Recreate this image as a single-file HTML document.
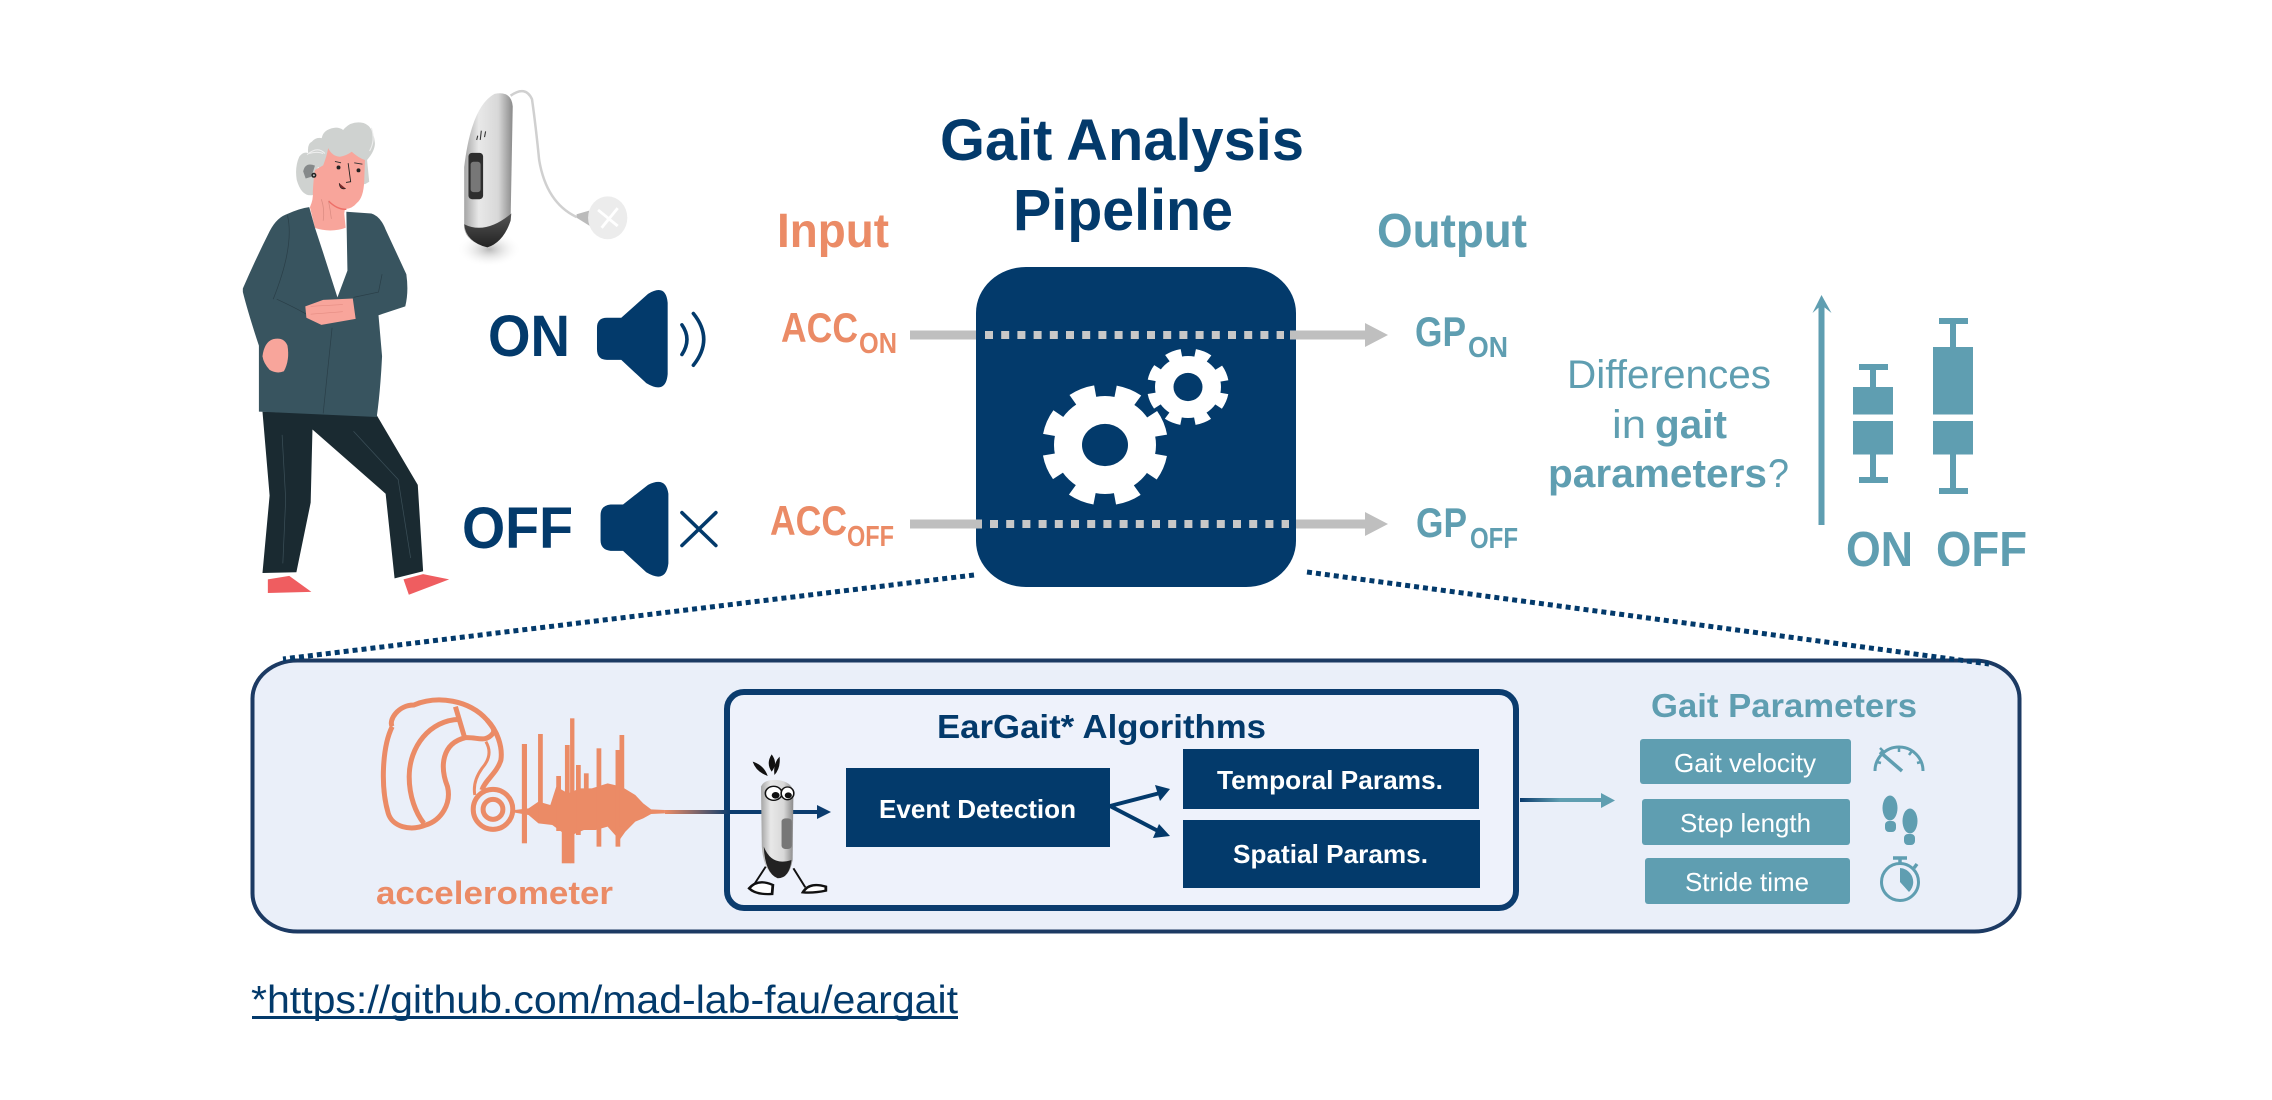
<!DOCTYPE html>
<html><head><meta charset="utf-8"><title>Gait Analysis Pipeline</title>
<style>html,body{margin:0;padding:0;background:#fff}svg{display:block}text{font-family:"Liberation Sans",sans-serif}</style>
</head><body>
<svg xmlns="http://www.w3.org/2000/svg" width="2272" height="1100" viewBox="0 0 2272 1100">
<defs>
<linearGradient id="silver" x1="0" x2="1" y1="0" y2="0"><stop offset="0" stop-color="#a5a5a5"/><stop offset=".3" stop-color="#e8e8e8"/><stop offset=".7" stop-color="#d8d8d8"/><stop offset="1" stop-color="#8a8a8a"/></linearGradient>
<linearGradient id="dark" x1="0" x2="0" y1="0" y2="1"><stop offset="0" stop-color="#555"/><stop offset="1" stop-color="#222"/></linearGradient>
<linearGradient id="g1" gradientUnits="userSpaceOnUse" x1="665" x2="730" y1="0" y2="0"><stop offset="0" stop-color="#EB8B66"/><stop offset="1" stop-color="#0B3C6E"/></linearGradient>
<linearGradient id="g2" gradientUnits="userSpaceOnUse" x1="1520" x2="1560" y1="0" y2="0"><stop offset="0" stop-color="#0B3C6E"/><stop offset="1" stop-color="#5F9EB1"/></linearGradient>
<radialGradient id="shadow"><stop offset="0" stop-color="#999" stop-opacity=".7"/><stop offset="1" stop-color="#fff" stop-opacity="0"/></radialGradient>
</defs>

<!-- person + hearing aid + speakers, zoom coordinates -->
<g transform="translate(200,60) scale(.357)">
 <!-- hair -->
 <path d="M271,336 Q265,300 278,271 Q290,255 303,261 Q300,235 313,229 Q325,215 341,219 Q345,195 375,190 Q390,188 401,196 Q420,172 450,175 Q485,178 490,233 Q490,255 468,280 L474,341 L462,348 L330,300 L317,378 Q285,385 271,336Z" fill="#CFD2D0"/>
 <!-- neck and face -->
 <path d="M359,247 Q370,270 392,271 Q410,268 425,257 Q445,275 462,280 L460,340 Q458,385 440,400 Q425,418 406,417 L404,430 L408,470 Q360,490 322,471 L308,412 Q318,390 316,370 Q318,330 322,308 L345,295 Q355,270 359,247Z" fill="#F8A59B"/>
 <path d="M360,395 Q385,420 410,418" fill="none" stroke="#EE6F68" stroke-width="4"/>
 <path d="M305,262 Q330,255 345,262 M300,265 Q330,240 350,262 M480,190 Q492,225 475,255" fill="none" stroke="#eee" stroke-width="3"/>
 <path d="M289,312 Q295,285 322,296 L312,327 L296,332Z" fill="#85898a"/>
 <circle cx="319" cy="323" r="7" fill="#222"/><circle cx="319" cy="323" r="3" fill="#bbb"/>
 <circle cx="388" cy="301" r="5.500" fill="#222"/><circle cx="444" cy="309" r="5.500" fill="#222"/>
 <path d="M378,284 L395,288 M432,288 L455,292" stroke="#333" stroke-width="2.500"/>
 <path d="M415,289 L422,341 L409,343" fill="none" stroke="#222" stroke-width="2.500"/>
 <path d="M390,345 Q392,365 408,360" fill="#7c2b2b" stroke="#222" stroke-width="2"/>
 <path d="M340,390 Q350,420 345,450 M360,395 Q365,420 368,445" fill="none" stroke="#d98a80" stroke-width="2"/>
 <!-- shirt -->
 <path d="M320,470 Q365,485 410,470 L413,590 L385,665 L345,540Z" fill="#fff"/>
 <!-- pants -->
 <path d="M175,985 L495,995 L610,1190 L625,1432 L545,1452 L520,1215 L315,1035 L310,1240 L270,1435 L175,1437 L195,1220Z" fill="#1A2A31"/>
 <path d="M230,1050 L240,1230 L232,1410 M430,1040 L555,1175 L590,1395" fill="none" stroke="#3b4f58" stroke-width="2"/>
 <!-- jacket -->
 <path d="M120,640 Q155,560 190,490 Q210,445 240,433 Q280,415 306,412 L322,470 L345,540 L385,665 L413,590 L410,425 L480,430 Q505,437 520,475 L578,600 Q585,650 575,690 L500,715 L510,830 Q505,930 495,1000 L165,985 L165,800 Q135,710 120,650Z" fill="#38545F"/>
 <path d="M245,435 Q265,520 205,670 M215,670 Q280,700 320,725 M370,750 L345,990 M510,600 L500,650 L430,665" fill="none" stroke="#2a3f48" stroke-width="2"/>
 <!-- hands -->
 <path d="M295,690 L345,672 L428,668 L436,725 L340,742 L298,722Z" fill="#F8A59B"/>
 <path d="M175,830 Q180,790 205,782 Q235,775 245,800 Q252,840 235,872 Q215,880 195,868 Q178,850 175,830Z" fill="#F8A59B"/>
 <path d="M310,690 L400,685 M310,712 L400,705" stroke="#e58d83" stroke-width="2"/>
 <!-- shoes -->
 <path d="M190,1455 L250,1445 L312,1490 L190,1493Z" fill="#EF5D60"/>
 <path d="M570,1455 L625,1440 L698,1455 L585,1498Z" fill="#EF5D60"/>
 <!-- hearing aid photo -->
 <ellipse cx="810" cy="530" rx="90" ry="50" fill="url(#shadow)"/>
 <path d="M870,100 Q912,70 930,110 Q940,180 950,280 Q970,400 1055,440" fill="none" stroke="#d0d0d0" stroke-width="7"/>
 <path d="M1055,432 L1090,422 L1092,465 L1055,442Z" fill="#bbb"/>
 <ellipse cx="1142" cy="442" rx="55" ry="60" fill="#ececec"/>
 <path d="M1115,420 L1170,465 M1170,415 L1125,470" stroke="#fff" stroke-width="8"/>
 <path d="M740,470 L740,300 Q760,130 825,95 Q872,85 876,130 L870,450 Q850,510 805,525 Q745,510 740,470Z" fill="url(#silver)"/>
 <path d="M740,460 Q800,490 872,430 L870,450 Q850,510 805,525 Q745,510 740,460Z" fill="url(#dark)"/>
 <rect x="752" y="260" width="41" height="130" rx="10" fill="#2e2e2e"/>
 <rect x="758" y="285" width="28" height="85" rx="8" fill="#777"/>
 <path d="M778,212 L775,224 M788,198 L785,224 M800,200 L797,216" stroke="#333" stroke-width="3"/>
 <!-- speakers -->
 <path d="M1140,722 L1180,722 L1255,655 Q1305,625 1310,680 L1310,880 Q1305,938 1250,905 L1180,840 L1140,840 Q1112,840 1112,810 L1112,750 Q1112,722 1140,722Z" fill="#033A6B"/>
 <path d="M1350,742 Q1378,782 1350,825 M1382,710 Q1440,782 1382,855" fill="none" stroke="#033A6B" stroke-width="10" stroke-linecap="round"/>
 <path d="M1150,1245 L1185,1245 L1255,1190 Q1305,1165 1312,1215 L1312,1410 Q1305,1468 1250,1435 L1185,1375 L1150,1375 Q1122,1372 1122,1345 L1122,1275 Q1122,1248 1150,1245Z" fill="#033A6B"/>
 <path d="M1350,1268 L1445,1360 M1445,1268 L1350,1360" fill="none" stroke="#033A6B" stroke-width="10" stroke-linecap="round"/>
</g>
<text x="488" y="356" font-size="58" font-weight="700" fill="#033A6B" textLength="82" lengthAdjust="spacingAndGlyphs">ON</text>
<text x="462" y="548" font-size="58" font-weight="700" fill="#033A6B" textLength="111" lengthAdjust="spacingAndGlyphs">OFF</text>

<!-- titles -->
<g font-weight="700" fill="#033A6B" font-size="58">
<text x="940" y="160" textLength="364" lengthAdjust="spacingAndGlyphs">Gait Analysis</text>
<text x="1013" y="230" textLength="220" lengthAdjust="spacingAndGlyphs">Pipeline</text>
</g>
<text x="777" y="247" font-size="48" font-weight="700" fill="#EB8B66" textLength="112" lengthAdjust="spacingAndGlyphs">Input</text>
<text x="1377" y="247" font-size="48" font-weight="700" fill="#5F9EB1" textLength="150" lengthAdjust="spacingAndGlyphs">Output</text>

<!-- pipeline box -->
<rect x="976" y="267" width="320" height="320" rx="50" ry="46" fill="#033A6B"/>

<!-- grey arrows -->
<rect x="910" y="330.500" width="66" height="9" fill="#BFBFBF"/>
<rect x="910" y="519.500" width="72" height="9" fill="#BFBFBF"/>
<rect x="1290" y="330.500" width="76" height="9" fill="#BFBFBF"/>
<rect x="1296" y="519.500" width="70" height="9" fill="#BFBFBF"/>
<path d="M1365,323 L1388,335 L1365,347Z M1365,512 L1388,524 L1365,536Z" fill="#BFBFBF"/>
<line x1="985" y1="335" x2="1284" y2="335" stroke="#C8C8C8" stroke-width="8" stroke-dasharray="8 8.200"/>
<line x1="990" y1="524" x2="1289" y2="524" stroke="#C8C8C8" stroke-width="8" stroke-dasharray="8 8.200"/>
<!-- gears -->
<g transform="translate(1105,445) scale(1,.96)" fill="#fff">
 <circle r="51"/><circle r="56.500" fill="none" stroke="#fff" stroke-width="13" stroke-dasharray="24 20.370" transform="rotate(10.500)"/>
 <ellipse rx="23" ry="22" fill="#033A6B"/>
</g>
<g transform="translate(1188,387) scale(1,.94)" fill="#fff">
 <circle r="33"/><circle r="36.500" fill="none" stroke="#fff" stroke-width="9" stroke-dasharray="15 13.670" transform="rotate(10.700)"/>
 <ellipse rx="14.500" ry="15" fill="#033A6B"/>
</g>

<!-- ACC / GP labels -->
<g font-weight="700" fill="#EB8B66">
<text x="781" y="342" font-size="42" textLength="77" lengthAdjust="spacingAndGlyphs">ACC</text>
<text x="859" y="353" font-size="29" textLength="38" lengthAdjust="spacingAndGlyphs">ON</text>
<text x="770" y="535" font-size="42" textLength="77" lengthAdjust="spacingAndGlyphs">ACC</text>
<text x="847" y="546" font-size="29" textLength="47" lengthAdjust="spacingAndGlyphs">OFF</text>
</g>
<g font-weight="700" fill="#5F9EB1">
<text x="1415" y="346" font-size="42" textLength="51" lengthAdjust="spacingAndGlyphs">GP</text>
<text x="1468" y="357" font-size="29" textLength="40" lengthAdjust="spacingAndGlyphs">ON</text>
<text x="1416" y="537" font-size="42" textLength="51" lengthAdjust="spacingAndGlyphs">GP</text>
<text x="1470" y="548" font-size="29" textLength="48" lengthAdjust="spacingAndGlyphs">OFF</text>
</g>

<!-- right side boxplots -->
<g fill="#5F9EB1">
<text x="1567" y="388" font-size="40" textLength="204" lengthAdjust="spacingAndGlyphs">Differences</text>
<text x="1612" y="438" font-size="40" textLength="34" lengthAdjust="spacingAndGlyphs">in</text>
<text x="1655" y="438" font-size="40" font-weight="700" textLength="72" lengthAdjust="spacingAndGlyphs">gait</text>
<text x="1548" y="487" font-size="40" font-weight="700" textLength="219" lengthAdjust="spacingAndGlyphs">parameters</text>
<text x="1768" y="487" font-size="40" textLength="21" lengthAdjust="spacingAndGlyphs">?</text>
<rect x="1818.500" y="305" width="6" height="220"/>
<path d="M1812.500,313 L1821.500,295 L1831.500,313 L1821.500,305Z"/>
<rect x="1853" y="387" width="40" height="27.500"/><rect x="1853" y="421" width="40" height="33.500"/>
<rect x="1870" y="367" width="6" height="20"/><rect x="1870" y="454" width="6" height="26"/>
<rect x="1859" y="364" width="29" height="6"/><rect x="1859" y="477" width="29" height="6"/>
<rect x="1933" y="347" width="40" height="67.500"/><rect x="1933" y="421" width="40" height="33.500"/>
<rect x="1950" y="321" width="6" height="26"/><rect x="1950" y="454" width="6" height="37"/>
<rect x="1939" y="318" width="29" height="6"/><rect x="1939" y="488" width="29" height="6"/>
<text x="1846" y="566" font-size="49" font-weight="700" textLength="67" lengthAdjust="spacingAndGlyphs">ON</text>
<text x="1936" y="566" font-size="49" font-weight="700" textLength="91" lengthAdjust="spacingAndGlyphs">OFF</text>
</g>

<!-- panel -->
<rect x="252.500" y="660.500" width="1767" height="271" rx="45" ry="38" fill="#EAEFF9" stroke="#1C3A63" stroke-width="4"/>
<!-- zoom lines -->
<line x1="974" y1="575" x2="283" y2="659" stroke="#033A6B" stroke-width="5" stroke-dasharray="5 4"/>
<line x1="1307" y1="572" x2="1989" y2="664" stroke="#033A6B" stroke-width="5" stroke-dasharray="5 4"/>

<!-- inner box -->
<rect x="727" y="692" width="789" height="216" rx="17" fill="#EEF2FB" stroke="#0B3C6E" stroke-width="6"/>
<text x="937" y="738" font-size="33" font-weight="700" fill="#033A6B" textLength="329" lengthAdjust="spacingAndGlyphs">EarGait* Algorithms</text>

<!-- line into box -->
<rect x="665" y="810" width="155" height="4" fill="url(#g1)"/>
<path d="M817,805 L831,812 L817,819Z" fill="#0B3C6E"/>

<rect x="846" y="768" width="264" height="79" fill="#033A6B"/>
<text x="879" y="818" font-size="26" font-weight="700" fill="#fff" textLength="197" lengthAdjust="spacingAndGlyphs">Event Detection</text>
<rect x="1183" y="749" width="296" height="60" fill="#033A6B"/>
<text x="1217" y="789" font-size="26" font-weight="700" fill="#fff" textLength="226" lengthAdjust="spacingAndGlyphs">Temporal Params.</text>
<rect x="1183" y="820" width="297" height="68" fill="#033A6B"/>
<text x="1233" y="863" font-size="26" font-weight="700" fill="#fff" textLength="195" lengthAdjust="spacingAndGlyphs">Spatial Params.</text>
<path d="M1110,806 L1160,793 M1110,806 L1160,832" stroke="#033A6B" stroke-width="4" fill="none"/>
<path d="M1170,789 L1155,785 L1160,801Z M1170,836 L1159,824 L1153,838Z" fill="#033A6B"/>

<!-- accelerometer icon and wave, character -->
<g transform="translate(240,640) scale(.3953,.3333)">
 <g fill="none" stroke="#EB8B66" stroke-width="5">
  <path vector-effect="non-scaling-stroke" d="M385,260 C375,240 400,195 440,195 C500,165 580,180 625,240 C650,270 665,320 660,360 C650,400 620,420 612,450"/>
  <path vector-effect="non-scaling-stroke" d="M385,260 C360,320 355,440 375,520 C385,560 430,575 470,555 C510,540 535,490 525,440 C505,380 510,310 570,293 C600,290 620,310 640,280 C645,270 640,262 625,240"/>
  <path vector-effect="non-scaling-stroke" d="M555,238 C480,240 428,320 428,410 C428,470 445,520 465,550"/>
  <path vector-effect="non-scaling-stroke" d="M545,200 L568,292"/>
  <path vector-effect="non-scaling-stroke" stroke-width="3" d="M622,305 Q642,345 612,385 Q588,425 594,465"/>
  <ellipse vector-effect="non-scaling-stroke" cx="640" cy="508" rx="50" ry="60"/>
  <ellipse vector-effect="non-scaling-stroke" cx="640" cy="508" rx="25" ry="30"/>
 </g>
 <g fill="#EB8B66">
  <path d="M695,510 L730,505 L755,485 L785,495 L800,440 L830,460 L860,445 L890,445 L930,430 L965,440 L1000,465 L1020,490 L1040,508 L1075,510 L1075,520 L1040,522 L1020,535 L1000,545 L975,575 L960,600 L930,560 L900,570 L870,570 L830,590 L790,555 L755,550 L730,525 L695,518Z"/>
  <rect x="713" y="312" width="13" height="298"/><rect x="754" y="282" width="12" height="265"/>
  <rect x="800" y="408" width="12" height="165"/><rect x="814" y="540" width="22" height="130"/>
  <rect x="822" y="315" width="12" height="150"/><rect x="835" y="235" width="11" height="435"/>
  <rect x="850" y="375" width="12" height="210"/><rect x="870" y="400" width="12" height="170"/>
  <rect x="902" y="325" width="12" height="295"/><rect x="950" y="330" width="12" height="290"/>
  <rect x="960" y="285" width="12" height="275"/>
 </g>
 <!-- character -->
 <path d="M1330,680 L1298,738 M1400,685 L1430,742" stroke="#111" stroke-width="5" fill="none"/>
 <path d="M1288,745 Q1310,715 1348,735 L1346,762 Q1305,765 1288,745Z" fill="#fff" stroke="#111" stroke-width="7"/>
 <path d="M1424,757 Q1440,725 1482,740 L1482,752 Q1450,760 1424,757Z" fill="#fff" stroke="#111" stroke-width="7"/>
 <path d="M1318,440 Q1325,418 1360,420 Q1395,425 1400,455 L1398,660 Q1390,715 1360,715 Q1325,700 1320,620Z" fill="url(#silver)"/>
 <path d="M1325,620 Q1345,680 1395,660 Q1390,715 1360,715 Q1328,700 1325,620Z" fill="#222"/>
 <rect x="1370" y="535" width="26" height="92" rx="10" fill="#777"/>
 <ellipse cx="1350" cy="460" rx="21" ry="21" fill="#fff" stroke="#111" stroke-width="4"/>
 <ellipse cx="1385" cy="460" rx="16" ry="19" fill="#fff" stroke="#111" stroke-width="4"/>
 <circle cx="1355" cy="466" r="10" fill="#111"/><circle cx="1387" cy="466" r="9" fill="#111"/>
 <path d="M1297,365 Q1325,375 1335,408 Q1305,395 1297,365Z M1345,343 Q1362,370 1345,395 Q1330,370 1345,343Z M1365,350 Q1368,385 1352,405 Q1348,370 1365,350Z" fill="#111"/>
</g>
<text x="376" y="904" font-size="32" font-weight="700" fill="#EB8B66" textLength="237" lengthAdjust="spacingAndGlyphs">accelerometer</text>

<!-- arrow to gait params -->
<rect x="1520" y="798" width="84" height="4" fill="url(#g2)"/>
<path d="M1601,793 L1615,800.500 L1601,808Z" fill="#5F9EB1"/>

<text x="1651" y="717" font-size="33" font-weight="700" fill="#5F9EB1" textLength="266" lengthAdjust="spacingAndGlyphs">Gait Parameters</text>
<rect x="1640" y="739" width="211" height="45" rx="3" fill="#5F9EB1"/>
<rect x="1642" y="799" width="208" height="46" rx="3" fill="#5F9EB1"/>
<rect x="1645" y="858" width="205" height="46" rx="3" fill="#5F9EB1"/>
<g font-size="26" fill="#fff">
<text x="1674" y="772" textLength="142" lengthAdjust="spacingAndGlyphs">Gait velocity</text>
<text x="1680" y="832" textLength="131" lengthAdjust="spacingAndGlyphs">Step length</text>
<text x="1685" y="891" textLength="124" lengthAdjust="spacingAndGlyphs">Stride time</text>
</g>
<!-- icons -->
<g fill="none" stroke="#5F9EB1">
 <path d="M1875,771 A24,24 0 0 1 1923,771" stroke-width="3"/>
 <path d="M1884,752 L1880,748 M1899,747 L1899,752 M1912,751 L1909,755 M1921,762 L1917,763 M1877,762 L1881,763" stroke-width="2.500"/>
 <path d="M1902,771 L1880,752" stroke-width="3.500"/>
 <circle cx="1900" cy="882" r="18.500" stroke-width="3"/>
 <path d="M1900,863 V858 M1893,858 H1907 M1914,868 L1917,864" stroke-width="3.500"/>
</g>
<g fill="#5F9EB1">
 <ellipse cx="1890" cy="808" rx="7.500" ry="12.500"/><rect x="1885" y="821" width="11" height="11" rx="4"/>
 <ellipse cx="1910" cy="821" rx="7.500" ry="12.500"/><rect x="1904" y="834" width="11" height="11" rx="4"/>
 <path d="M1900,882 L1900,868 A14,14 0 0 1 1909,892Z"/>
</g>

<!-- link -->
<text x="251" y="1013" font-size="39" fill="#033A6B" textLength="707" lengthAdjust="spacingAndGlyphs">*https://github.com/mad-lab-fau/eargait</text>
<rect x="252" y="1016" width="706" height="3" fill="#033A6B"/>
</svg>
</body></html>
